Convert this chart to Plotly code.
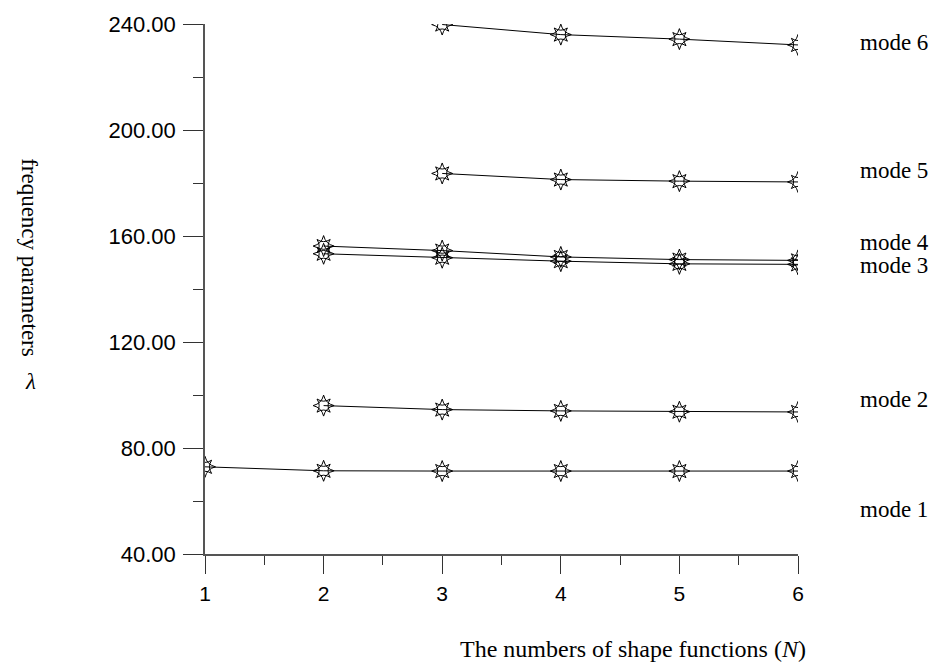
import plotly.graph_objects as go

# ---- data ----
n_values = [1, 2, 3, 4, 5, 6]
mode1 = [72.9, 71.4, 71.3, 71.3, 71.3, 71.3]
mode2 = [None, 96.0, 94.5, 94.0, 93.7, 93.6]
mode3 = [None, 153.3, 151.8, 150.5, 149.5, 149.3]
mode4 = [None, 156.2, 154.5, 152.1, 151.1, 150.8]
mode5 = [None, None, 183.6, 181.3, 180.7, 180.4]
mode6 = [None, None, 239.8, 236.0, 234.3, 232.1]
mode_names = ["mode 1", "mode 2", "mode 3", "mode 4", "mode 5", "mode 6"]
label_y = [56.8, 98.4, 148.8, 157.7, 184.7, 232.9]
y_ticks = [40, 80, 120, 160, 200, 240]
y_tick_labels = ["40.00", "80.00", "120.00", "160.00", "200.00", "240.00"]

series = [mode1, mode2, mode3, mode4, mode5, mode6]

SANS = "Liberation Sans, Arial, sans-serif"
SERIF = "Liberation Serif, Times New Roman, serif"

fig = go.Figure()
for name, vals in zip(mode_names, series):
    xs = [x for x, v in zip(n_values, vals) if v is not None]
    ys = [v for v in vals if v is not None]
    fig.add_trace(go.Scatter(
        x=xs, y=ys, mode="lines+markers", name=name,
        line=dict(color="black", width=1),
        marker=dict(symbol="star-diamond-open", size=15,
                    color="black", line=dict(color="black", width=1)),
        showlegend=False, hoverinfo="skip"))
    fig.add_trace(go.Scatter(
        x=xs, y=ys, mode="markers", name=name,
        marker=dict(symbol="star-square-open", size=12,
                    color="black", line=dict(color="black", width=1)),
        showlegend=False, hoverinfo="skip"))

for name, ly in zip(mode_names, label_y):
    fig.add_annotation(x=1.101, xref="paper", y=ly, yref="y", text=name,
                       showarrow=False, xanchor="left", yanchor="middle",
                       font=dict(family=SERIF, size=23, color="black"))

fig.add_annotation(x=1.017, xref="paper", y=-0.179, yref="paper",
                   text="The numbers of shape functions (<i>N</i>)",
                   showarrow=False, xanchor="right", yanchor="middle",
                   font=dict(family=SERIF, size=24, color="black"))
fig.add_annotation(x=-0.295, xref="paper", y=0.56, yref="paper",
                   text="frequency parameters", textangle=90,
                   showarrow=False, xanchor="center", yanchor="middle",
                   font=dict(family=SERIF, size=23, color="black"))
fig.add_annotation(x=-0.295, xref="paper", y=0.325, yref="paper",
                   text="<i>λ</i>",
                   showarrow=False, xanchor="center", yanchor="middle",
                   font=dict(family=SERIF, size=23, color="black"))

fig.update_xaxes(
    range=[1, 6], tickvals=n_values, ticktext=[str(v) for v in n_values],
    showgrid=False, zeroline=False, showline=True, linecolor="#555", linewidth=1.5,
    ticks="outside", ticklen=18, tickwidth=1.2, tickcolor="#333",
    ticklabelstandoff=2,
    minor=dict(dtick=0.5, tick0=1, ticks="outside", ticklen=9, tickwidth=1.2, tickcolor="#333"),
    tickfont=dict(family=SANS, size=21, color="black"))
fig.update_yaxes(
    range=[40, 240], tickvals=y_ticks, ticktext=y_tick_labels,
    showgrid=False, zeroline=False, showline=True, linecolor="#555", linewidth=1.5,
    ticks="outside", ticklen=20, tickwidth=1.2, tickcolor="#333",
    ticklabelstandoff=3,
    minor=dict(dtick=20, tick0=40, ticks="outside", ticklen=10, tickwidth=1.2, tickcolor="#333"),
    tickfont=dict(family=SANS, size=22, color="black"))

fig.update_layout(
    width=933, height=663,
    margin=dict(l=205, r=135, t=16, b=109),
    plot_bgcolor="white", paper_bgcolor="white",
    showlegend=False)

fig.write_html("out.html", config={"displayModeBar": False},
               post_script="document.body.style.margin='0';document.body.style.overflow='hidden';")
